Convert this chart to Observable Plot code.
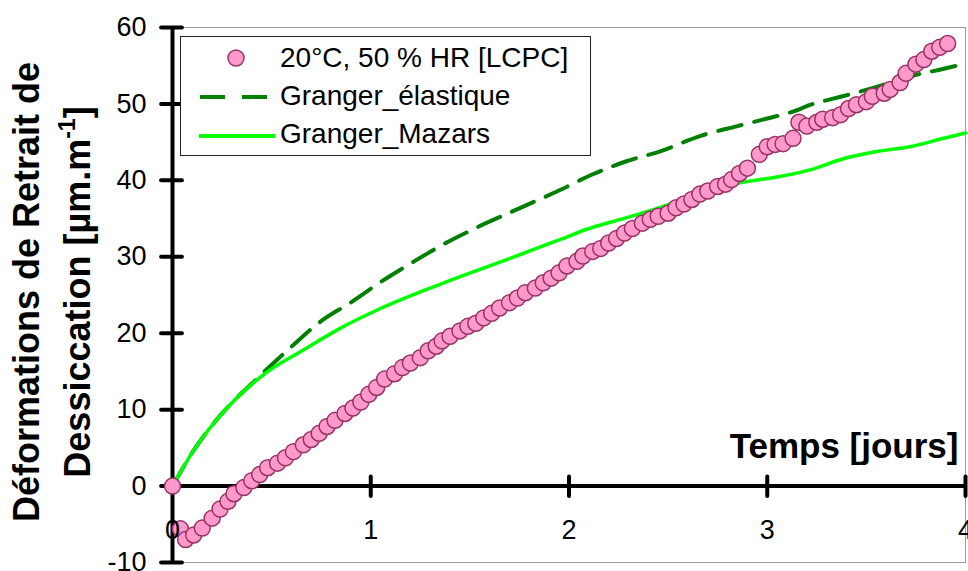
<!DOCTYPE html>
<html><head><meta charset="utf-8">
<script src="https://cdn.jsdelivr.net/npm/d3@7"></script>
<script src="https://cdn.jsdelivr.net/npm/@observablehq/plot@0.6"></script>
<style>
body{margin:0;background:#fff;}
#wrap{position:relative;width:968px;height:571px;overflow:hidden;font-family:"Liberation Sans",Arial,sans-serif;}
#wrap svg{display:block;}
#legend{position:absolute;left:180px;top:36px;}
</style></head><body><div id="wrap"></div>
<script>
// Measured shrinkage 20°C, 50 % HR [LCPC]
const lcpcTime = [0, 0.04, 0.066, 0.107, 0.15, 0.2, 0.24, 0.28, 0.31, 0.36, 0.40, 0.44, 0.48, 0.53, 0.57, 0.61, 0.66, 0.70, 0.74, 0.78, 0.82, 0.87, 0.91, 0.95, 0.99, 1.03, 1.07, 1.12, 1.16, 1.20, 1.25, 1.29, 1.33, 1.36, 1.40, 1.45, 1.49, 1.53, 1.57, 1.61, 1.65, 1.70, 1.74, 1.78, 1.83, 1.87, 1.91, 1.95, 1.99, 2.04, 2.07, 2.12, 2.16, 2.20, 2.24, 2.28, 2.32, 2.37, 2.41, 2.45, 2.50, 2.54, 2.58, 2.62, 2.66, 2.70, 2.75, 2.79, 2.82, 2.86, 2.90, 2.96, 3.00, 3.04, 3.08, 3.13, 3.16, 3.20, 3.25, 3.28, 3.33, 3.37, 3.41, 3.45, 3.50, 3.53, 3.59, 3.62, 3.67, 3.70, 3.75, 3.79, 3.83, 3.87, 3.91];
const lcpcValue = [0, -5.6, -7.0, -6.4, -5.5, -4.2, -3.0, -2.0, -1.0, -0.2, 0.7, 1.5, 2.4, 3.0, 3.7, 4.5, 5.4, 6.1, 6.9, 7.8, 8.6, 9.5, 10.2, 11.0, 12.0, 12.9, 14.0, 14.7, 15.5, 16.1, 16.8, 17.7, 18.3, 19.0, 19.6, 20.3, 20.9, 21.3, 22.0, 22.6, 23.3, 24.0, 24.6, 25.3, 25.9, 26.6, 27.2, 27.9, 28.8, 29.4, 30.1, 30.7, 31.1, 31.8, 32.4, 33.1, 33.7, 34.4, 34.9, 35.3, 35.7, 36.4, 36.9, 37.5, 38.2, 38.6, 39.2, 39.5, 40.1, 40.9, 41.6, 43.4, 44.4, 44.7, 44.8, 45.5, 47.6, 47.1, 47.6, 48.0, 48.2, 48.6, 49.4, 49.9, 50.3, 51.0, 51.4, 51.9, 52.8, 54.0, 55.2, 55.8, 56.9, 57.4, 57.9];

// Granger_élastique
const elasTime = [0, 0.11, 0.22, 0.44, 0.59, 0.74, 0.91, 1.05, 1.20, 1.35, 1.50, 1.755, 1.96, 2.12, 2.29, 2.46, 2.66, 2.85, 3.00, 3.13, 3.22, 3.38, 3.56, 3.72, 3.89, 4.0];
const elasValue = [0, 4.8, 8.6, 14.4, 18.0, 21.4, 24.2, 26.7, 29.1, 31.4, 33.4, 36.4, 38.8, 40.8, 42.5, 43.8, 45.8, 47.1, 48.1, 49.0, 49.9, 51.0, 52.3, 53.6, 54.6, 55.3];

// Granger_Mazars
const mazTime = [0, 0.11, 0.22, 0.45, 0.66, 0.85, 1.03, 1.35, 1.62, 1.755, 1.96, 2.09, 2.26, 2.43, 2.60, 2.76, 2.85, 3.04, 3.22, 3.38, 3.56, 3.72, 3.89, 4.0];
const mazValue = [0, 4.8, 8.6, 14.4, 17.8, 20.7, 23.0, 26.4, 29.0, 30.3, 32.3, 33.6, 34.9, 36.2, 37.7, 39.0, 39.6, 40.4, 41.4, 42.8, 43.8, 44.4, 45.5, 46.2];

const xTicks = [0, 1, 2, 3, 4];
const yTicks = [-10, 0, 10, 20, 30, 40, 50, 60];
const seriesNames = ["20°C, 50 % HR [LCPC]", "Granger_élastique", "Granger_Mazars"];
const xTitle = "Temps [jours]";
const yTitle1 = "Déformations de Retrait de";
const yTitle2 = "Dessiccation [µm.m-1]";

const measured = lcpcTime.map((t, i) => ({t, v: lcpcValue[i]}));
const elastic = elasTime.map((t, i) => ({t, v: elasValue[i]}));
const mazars = mazTime.map((t, i) => ({t, v: mazValue[i]}));

const FONT = "Liberation Sans, Arial, sans-serif";
const chart = Plot.plot({
  width: 968, height: 571,
  marginLeft: 172, marginRight: 3, marginTop: 27, marginBottom: 9,
  x: {domain: [0, 4], axis: null},
  y: {domain: [-10, 60], axis: null},
  style: {fontFamily: FONT, background: "white", overflow: "visible", color: "black"},
  marks: [
    Plot.frame({stroke: "#9a9a9a", strokeWidth: 1}),
    Plot.line(elastic, {x: "t", y: "v", stroke: "#008000", strokeWidth: 4, strokeDasharray: "24,13", curve: "monotone-x"}),
    Plot.line(mazars, {x: "t", y: "v", stroke: "#00ff00", strokeWidth: 3.5, curve: "monotone-x"}),
    Plot.ruleX([0], {stroke: "black", strokeWidth: 4}),
    Plot.ruleY([0], {stroke: "black", strokeWidth: 4}),
    Plot.ruleY(yTicks, {y: d => d, x1: -0.055, x2: 0.05, stroke: "black", strokeWidth: 4, strokeLinecap: "round"}),
    Plot.ruleX(xTicks.filter(d => d > 0), {x: d => d, y1: -1.35, y2: 1.2, stroke: "black", strokeWidth: 4, strokeLinecap: "round"}),
    Plot.dot(measured, {x: "t", y: "v", r: 8, fill: "#ff99cc", stroke: "#993366", strokeWidth: 1.5}),
    Plot.text(yTicks, {x: 0, y: d => d, text: d => String(d), textAnchor: "end", dx: -26, fontSize: 27, fill: "black"}),
    Plot.text(xTicks, {x: d => d, y: 0, text: d => String(d), dy: 44, fontSize: 27, fill: "black"}),
    Plot.text([xTitle], {x: 4, y: 0, text: d => d, textAnchor: "end", lineAnchor: "bottom", dx: -7, dy: -28, fontSize: 35, fontWeight: "bold", fill: "black"}),
    Plot.text([yTitle1], {frameAnchor: "left", text: d => d, rotate: -90, textAnchor: "middle", lineAnchor: "bottom", dx: -134, dy: -3, fontSize: 36, fontWeight: "bold", fill: "black"}),
    Plot.text([yTitle2], {frameAnchor: "left", text: d => d, rotate: -90, textAnchor: "middle", lineAnchor: "bottom", dx: -83, dy: -3, fontSize: 36, fontWeight: "bold", fill: "black"})
  ]
});

// superscript "-1"
for (const t of chart.querySelectorAll("text")) {
  if (t.textContent === yTitle2) {
    const NS = "http://www.w3.org/2000/svg";
    t.textContent = "Dessiccation [µm.m";
    const sup = document.createElementNS(NS, "tspan");
    sup.setAttribute("dy", "-15");
    sup.setAttribute("font-size", "23");
    sup.textContent = "-1";
    const close = document.createElementNS(NS, "tspan");
    close.setAttribute("dy", "15");
    close.textContent = "]";
    t.appendChild(sup);
    t.appendChild(close);
  }
}

const wrap = document.getElementById("wrap");
wrap.appendChild(chart);

// Legend
const NS = "http://www.w3.org/2000/svg";
const leg = document.createElementNS(NS, "svg");
leg.setAttribute("id", "legend");
leg.setAttribute("width", 412);
leg.setAttribute("height", 121);
leg.innerHTML = `
  <rect x="0.5" y="0.5" width="410" height="119" fill="white" stroke="#222" stroke-width="1"/>
  <circle cx="56" cy="22" r="8" fill="#ff99cc" stroke="#993366" stroke-width="1.5"/>
  <text x="100" y="31" font-size="28" font-family="${FONT}">${seriesNames[0]}</text>
  <line x1="20" x2="87" y1="61" y2="61" stroke="#008000" stroke-width="4" stroke-dasharray="25,17"/>
  <text x="100" y="69" font-size="28" font-family="${FONT}">${seriesNames[1]}</text>
  <line x1="19" x2="95" y1="100" y2="100" stroke="#00ff00" stroke-width="4"/>
  <text x="100" y="107" font-size="28" font-family="${FONT}">${seriesNames[2]}</text>`;
wrap.appendChild(leg);
</script></body></html>
